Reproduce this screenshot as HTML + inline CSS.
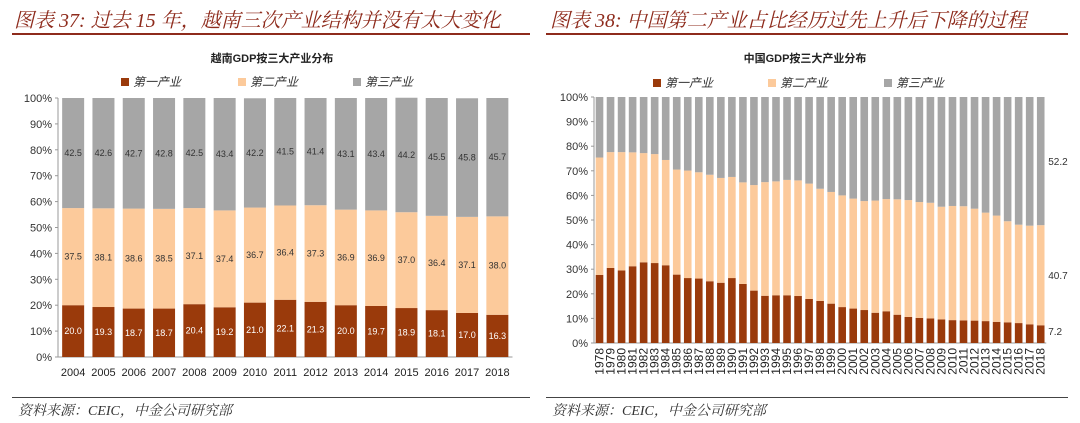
<!DOCTYPE html>
<html><head><meta charset="utf-8"><style>
body{margin:0;width:1080px;height:423px;background:#fff;overflow:hidden;font-family:"Liberation Sans","Noto Sans CJK SC",sans-serif}
.t{position:absolute;top:4px;font-size:20px;font-style:italic;color:#8e2b1c;font-family:"Liberation Serif","Noto Serif CJK SC",serif;white-space:nowrap}
.ul{position:absolute;top:33px;height:2px;background:#8e2b1c}
.sl{position:absolute;top:397px;height:1px;background:#444}
.src{position:absolute;top:400px;font-size:14px;font-style:italic;color:#333;font-family:"Liberation Serif","Noto Serif CJK SC",serif}
svg{position:absolute;left:0;top:0}
</style></head><body>
<div class="t" style="left:14px">图表 37: 过去 15 年，越南三次产业结构并没有太大变化</div>
<div class="ul" style="left:12px;width:518px"></div>
<div class="t" style="left:550px">图表 38: 中国第二产业占比经历过先上升后下降的过程</div>
<div class="ul" style="left:546px;width:522px"></div>
<div class="sl" style="left:12px;width:518px"></div>
<div class="sl" style="left:546px;width:522px"></div>
<div class="src" style="left:18px">资料来源：CEIC，中金公司研究部</div>
<div class="src" style="left:552px">资料来源：CEIC，中金公司研究部</div>
<svg id="c" width="1080" height="423"></svg>
<script>
const vnYears=['2004','2005','2006','2007','2008','2009','2010','2011','2012','2013','2014','2015','2016','2017','2018'];
const vnPrimary=[20.0,19.3,18.7,18.7,20.4,19.2,21.0,22.1,21.3,20.0,19.7,18.9,18.1,17.0,16.3];
const vnSecondary=[37.5,38.1,38.6,38.5,37.1,37.4,36.7,36.4,37.3,36.9,36.9,37.0,36.4,37.1,38.0];
const vnTertiary=[42.5,42.6,42.7,42.8,42.5,43.4,42.2,41.5,41.4,43.1,43.4,44.2,45.5,45.8,45.7];
const cnYears=['1978','1979','1980','1981','1982','1983','1984','1985','1986','1987','1988','1989','1990','1991','1992','1993','1994','1995','1996','1997','1998','1999','2000','2001','2002','2003','2004','2005','2006','2007','2008','2009','2010','2011','2012','2013','2014','2015','2016','2017','2018'];
const cnPrimary=[27.7,30.5,29.5,31.2,32.8,32.5,31.6,27.8,26.4,26.2,25.1,24.5,26.4,24.0,21.3,19.2,19.4,19.4,19.1,17.9,17.1,16.0,14.6,14.0,13.4,12.3,12.9,11.5,10.6,10.2,10.0,9.6,9.3,9.2,9.1,8.9,8.6,8.4,8.1,7.6,7.2];
const cnSecondary=[47.7,47.1,48.1,46.3,44.4,44.3,42.8,42.7,43.7,43.2,43.3,42.6,41.1,41.3,42.9,46.2,46.3,46.9,47.0,46.9,45.6,45.4,45.4,44.7,44.3,45.6,45.6,46.9,47.5,47.1,47.0,45.8,46.4,46.4,45.5,44.1,43.2,41.1,40.0,40.1,40.7];
const cnTertiary=cnPrimary.map((p,i)=>+(100-p-cnSecondary[i]).toFixed(1));
const cnEndLabels=['7.2','40.7','52.2'];
const yTicks=['0%','10%','20%','30%','40%','50%','60%','70%','80%','90%','100%'];
const C=['#9a3a0b','#fcca9b','#a6a6a6'];
const svg=document.getElementById('c');const NS='http://www.w3.org/2000/svg';
function mk(t,a,txt){const e=document.createElementNS(NS,t);for(const k in a)e.setAttribute(k,a[k]);if(txt!=null)e.textContent=txt;svg.appendChild(e);return e;}
function chart(o){
  const y=v=>o.y0-(v/100)*(o.y0-o.y1);
  const x=i=>o.x0+o.step*(i+0.5);
  const tt=mk('text',{x:o.cx,y:o.ty,'text-anchor':'middle','font-size':11,'font-weight':'bold',fill:'#222'},o.title);
  
  
  const names=['第一产业','第二产业','第三产业'];
  names.forEach((n,k)=>{const lx=o.lx[k];
    const r=mk('rect',{x:lx,y:o.ly-5,width:8,height:8,fill:C[k]});
    
    
    const t=mk('text',{x:lx+12,y:o.ly+3,'font-size':12,fill:'#333','font-style':'italic'},n);
    
    });
  yTicks.forEach((s,i)=>{const t=mk('text',{x:o.x0-6,y:y(i*10)+4,'text-anchor':'end','font-size':11,fill:'#333'},s);
    
    
    mk('line',{x1:o.x0-3,x2:o.x0,y1:y(i*10),y2:y(i*10),stroke:'#999'});});
  const ya=mk('line',{x1:o.x0,x2:o.x0,y1:y(0),y2:y(100),stroke:'#999'});
  
  
  const xa=mk('line',{x1:o.x0,x2:o.x0+o.step*o.cats.length,y1:y(0),y2:y(0),stroke:'#999'});
  
  
  o.cats.forEach((c,i)=>{let base=0;
    [o.s[0][i],o.s[1][i],o.s[2][i]].forEach((v,k)=>{
      const r=mk('rect',{x:x(i)-o.bw/2,y:y(base+v),width:o.bw,height:y(base)-y(base+v),fill:C[k]});
      
      
      if(o.labels){const t=mk('text',{x:x(i),y:(y(base)+y(base+v))/2+3,'text-anchor':'middle','font-size':9,fill:k==0?'#fff':'#333'},v.toFixed(1));
        
        }
      base+=v;});
    let t;
    if(o.rot){t=mk('text',{x:0,y:0,'text-anchor':'end','font-size':12,fill:'#222',transform:`translate(${x(i)+4},${y(0)+5}) rotate(-90)`},c);}
    else{t=mk('text',{x:x(i),y:y(0)+19,'text-anchor':'middle','font-size':11,fill:'#222'},c);}
    
    
  });
  if(o.endLabels){const n=o.cats.length-1;let base=0;
    [o.s[0][n],o.s[1][n],o.s[2][n]].forEach((v,k)=>{const yy=k==0?y(0)-8:(y(base)+y(base+v))/2+4;
      const t=mk('text',{x:o.x0+o.step*o.cats.length+2,y:yy,'font-size':10,fill:'#333'},o.endLabels[k]);
      
      base+=v;});}
}
chart({p:'vietnam',cats:vnYears,s:[vnPrimary,vnSecondary,vnTertiary],x0:58,step:30.3,bw:22,y0:357,y1:98,title:'越南GDP按三大产业分布',cx:272,ty:62,ly:83,lx:[121,238,353],labels:true,rot:false});
chart({p:'china',cats:cnYears,s:[cnPrimary,cnSecondary,cnTertiary],x0:594,step:11.03,bw:7.6,y0:343,y1:97,title:'中国GDP按三大产业分布',cx:805,ty:62,ly:84,lx:[653,768,884],labels:false,rot:true,endLabels:cnEndLabels});
</script>
</body></html>
